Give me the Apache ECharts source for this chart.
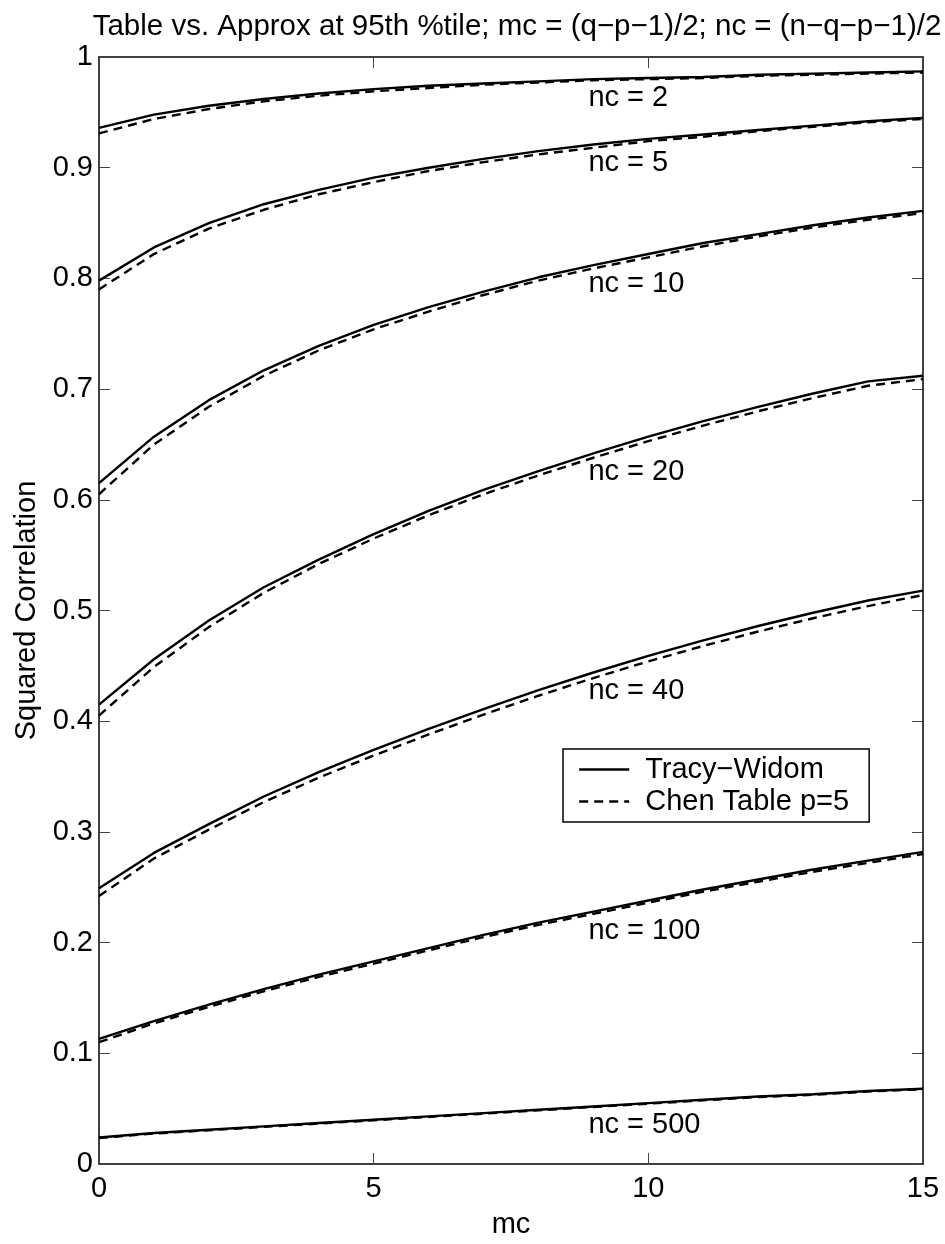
<!DOCTYPE html>
<html>
<head>
<meta charset="utf-8">
<title>Table vs. Approx</title>
<script src="https://cdn.jsdelivr.net/npm/echarts@6/dist/echarts.min.js"></script>
<style>
  html, body { margin: 0; padding: 0; background: #fff; }
  #chart { width: 945px; height: 1244px; }
</style>
</head>
<body>
<div id="chart"></div>
<script>
// mc values along the x axis
const mc = [0, 1, 2, 3, 4, 5, 6, 7, 8, 9, 10, 11, 12, 13, 14, 15];

// Tracy-Widom approximation, one array per nc
const tw2 = [0.936, 0.948, 0.956, 0.962, 0.967, 0.971, 0.974, 0.976, 0.978, 0.980, 0.981, 0.982, 0.984, 0.985, 0.986, 0.987];
const tw5 = [0.798, 0.828, 0.850, 0.867, 0.880, 0.891, 0.900, 0.908, 0.915, 0.921, 0.926, 0.930, 0.934, 0.938, 0.942, 0.945];
const tw10 = [0.615, 0.657, 0.690, 0.717, 0.739, 0.758, 0.774, 0.788, 0.801, 0.812, 0.822, 0.832, 0.840, 0.848, 0.855, 0.861];
const tw20 = [0.415, 0.456, 0.491, 0.521, 0.546, 0.569, 0.590, 0.609, 0.626, 0.642, 0.657, 0.671, 0.684, 0.696, 0.707, 0.712];
const tw40 = [0.249, 0.281, 0.307, 0.332, 0.354, 0.374, 0.393, 0.411, 0.428, 0.444, 0.459, 0.473, 0.486, 0.498, 0.509, 0.518];
const tw100 = [0.113, 0.129, 0.144, 0.158, 0.171, 0.183, 0.195, 0.207, 0.218, 0.228, 0.238, 0.248, 0.257, 0.266, 0.274, 0.282];
const tw500 = [0.024, 0.028, 0.031, 0.034, 0.037, 0.040, 0.043, 0.046, 0.049, 0.052, 0.055, 0.058, 0.061, 0.063, 0.066, 0.068];

// Chen table values, p = 5
const chen2 = [0.931, 0.944, 0.953, 0.960, 0.965, 0.969, 0.972, 0.975, 0.977, 0.979, 0.980, 0.981, 0.983, 0.984, 0.985, 0.986];
const chen5 = [0.790, 0.822, 0.845, 0.862, 0.876, 0.887, 0.897, 0.905, 0.912, 0.918, 0.924, 0.928, 0.933, 0.937, 0.941, 0.944];
const chen10 = [0.605, 0.650, 0.684, 0.712, 0.735, 0.754, 0.770, 0.785, 0.798, 0.809, 0.819, 0.829, 0.838, 0.846, 0.853, 0.859];
const chen20 = [0.405, 0.449, 0.485, 0.516, 0.542, 0.565, 0.586, 0.605, 0.622, 0.638, 0.653, 0.667, 0.680, 0.692, 0.703, 0.709];
const chen40 = [0.242, 0.276, 0.302, 0.327, 0.349, 0.369, 0.388, 0.406, 0.423, 0.439, 0.454, 0.468, 0.481, 0.493, 0.504, 0.514];
const chen100 = [0.110, 0.127, 0.142, 0.156, 0.169, 0.181, 0.193, 0.205, 0.216, 0.226, 0.236, 0.246, 0.255, 0.264, 0.272, 0.280];
const chen500 = [0.0235, 0.0275, 0.0305, 0.0335, 0.0365, 0.0395, 0.0425, 0.0455, 0.0485, 0.0515, 0.0545, 0.0575, 0.0605, 0.0625, 0.0655, 0.0675];

const ncLabels = ['nc = 2', 'nc = 5', 'nc = 10', 'nc = 20', 'nc = 40', 'nc = 100', 'nc = 500'];
const twSets = [tw2, tw5, tw10, tw20, tw40, tw100, tw500];
const chenSets = [chen2, chen5, chen10, chen20, chen40, chen100, chen500];

const TW_NAME = 'Tracy\u2212Widom';
const CHEN_NAME = 'Chen Table p=5';
const FONT = "'Liberation Sans', Arial, Helvetica, sans-serif";
const FS = 29;
const LABEL_AT = 9; // index of mc where the nc labels hang

const pairs = (ys) => mc.map((x, i) => [x, ys[i]]);

const series = [];
twSets.forEach((ys, k) => {
  series.push({
    name: TW_NAME,
    type: 'line',
    data: pairs(ys),
    symbol: 'none',
    z: 3,
    lineStyle: { color: '#000', width: 2.4, type: 'solid' },
    itemStyle: { color: '#000' },
    markPoint: {
      symbol: 'circle',
      symbolSize: 0,
      silent: true,
      data: [{
        coord: [mc[LABEL_AT], ys[LABEL_AT]],
        label: {
          show: true,
          formatter: ncLabels[k],
          position: 'inside',
          align: 'left',
          offset: [-5, 19],
          color: '#000',
          fontSize: FS,
          fontFamily: FONT
        }
      }]
    }
  });
});
chenSets.forEach((ys) => {
  series.push({
    name: CHEN_NAME,
    type: 'line',
    data: pairs(ys),
    symbol: 'none',
    z: 2,
    lineStyle: { color: '#000', width: 2.4, type: [9, 6] },
    itemStyle: { color: '#000' }
  });
});

const tickStyle = { color: '#444', width: 1 };
const axisLine = { show: true, onZero: false, lineStyle: { color: '#000', width: 1.5 } };

const chart = echarts.init(document.getElementById('chart'), null, { renderer: 'canvas' });
chart.setOption({
  animation: false,
  backgroundColor: '#fff',
  title: {
    text: 'Table vs. Approx at 95th %tile; mc = (q\u2212p\u22121)/2; nc = (n\u2212q\u2212p\u22121)/2',
    left: 512,
    top: 7,
    textAlign: 'center',
    textStyle: { fontSize: 29.5, fontWeight: 'normal', color: '#000', fontFamily: FONT }
  },
  legend: {
    data: [TW_NAME, CHEN_NAME],
    orient: 'vertical',
    left: 563,
    top: 749,
    padding: [6, 20, 6, 15],
    itemGap: 3,
    itemWidth: 50,
    itemHeight: 14,
    backgroundColor: '#fff',
    borderColor: '#000',
    borderWidth: 1.5,
    borderRadius: 0,
    selectedMode: false,
    itemStyle: { opacity: 0 },
    lineStyle: { width: 2.4 },
    textStyle: { fontSize: FS, color: '#000', fontFamily: FONT, padding: [0, 0, 0, 11] }
  },
  grid: { left: 99, right: 22, top: 57, bottom: 67, containLabel: false },
  xAxis: [
    {
      type: 'value',
      min: 0,
      max: 15,
      interval: 5,
      name: 'mc',
      nameLocation: 'middle',
      nameGap: 46,
      nameTextStyle: { fontSize: FS, color: '#000', fontFamily: FONT },
      axisLine: axisLine,
      axisTick: { inside: true, length: 11, lineStyle: tickStyle },
      axisLabel: { fontSize: FS, color: '#000', fontFamily: FONT, margin: 10 },
      splitLine: { show: false }
    },
    {
      type: 'value',
      position: 'top',
      min: 0,
      max: 15,
      interval: 5,
      axisLine: axisLine,
      axisTick: { inside: true, length: 11, lineStyle: tickStyle },
      axisLabel: { show: false },
      splitLine: { show: false }
    }
  ],
  yAxis: [
    {
      type: 'value',
      min: 0,
      max: 1,
      interval: 0.1,
      name: 'Squared Correlation',
      nameLocation: 'middle',
      nameGap: 55,
      nameTextStyle: { fontSize: FS, color: '#000', fontFamily: FONT },
      axisLine: axisLine,
      axisTick: { inside: true, length: 11, lineStyle: tickStyle },
      axisLabel: { fontSize: FS, color: '#000', fontFamily: FONT, margin: 6 },
      splitLine: { show: false }
    },
    {
      type: 'value',
      position: 'right',
      min: 0,
      max: 1,
      interval: 0.1,
      axisLine: axisLine,
      axisTick: { inside: true, length: 11, lineStyle: tickStyle },
      axisLabel: { show: false },
      splitLine: { show: false }
    }
  ],
  series: series
});
</script>
</body>
</html>
